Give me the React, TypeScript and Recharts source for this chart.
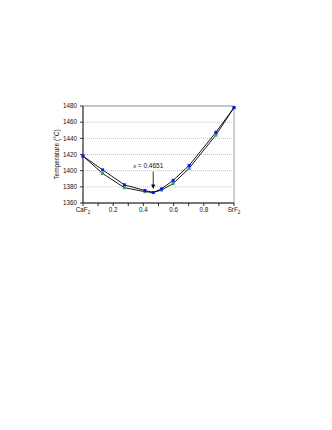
import React from 'react';
import { LineChart, Line, XAxis, YAxis, CartesianGrid, ReferenceArea, ReferenceDot } from 'recharts';

const compositions = [0, 0.13, 0.274, 0.41, 0.4651, 0.52, 0.597, 0.703, 0.88, 1];
const liquidus = [1418, 1401, 1382.5, 1375.5, 1373, 1377.5, 1388, 1406.5, 1447.5, 1478];
const solidus = [1418, 1396.5, 1379, 1374, 1373, 1376, 1384, 1403, 1444, 1478];
const xTicks = [0, 0.1, 0.2, 0.3, 0.4, 0.5, 0.6, 0.7, 0.8, 0.9, 1];
const yTicks = [1360, 1380, 1400, 1420, 1440, 1460, 1480];
const minX = 0.4651;
const minT = 1373;

const data = compositions.map((x, i) => ({ x, liq: liquidus[i], sol: solidus[i] }));

const FONT = '"Liberation Sans", Arial, sans-serif';

const Square = (color: string) => (props: any) => {
  const { cx, cy } = props;
  if (cx == null || cy == null) return null;
  return <rect x={cx - 1.5} y={cy - 1.5} width={3} height={3} fill={color} />;
};

const XTick = (props: any) => {
  const { x, y, payload } = props;
  const v = payload.value;
  let content: any = null;
  const r = Math.round(v * 10);
  if (r === 0) content = (<>CaF<tspan fontSize={4.5} dy={1.5}>2</tspan></>);
  else if (r === 10) content = (<>SrF<tspan fontSize={4.5} dy={1.5}>2</tspan></>);
  else if (r % 2 === 0) content = String(v);
  if (content == null) return null;
  return (
    <text x={x} y={y} dy="0.71em" textAnchor="middle" fontSize={6.3} fontFamily={FONT} fill="#111">
      {content}
    </text>
  );
};

const Annotation = (props: any) => {
  const { cx, cy } = props;
  if (cx == null || cy == null) return null;
  return (
    <g>
      <text x={cx - 5} y={cy - 24} textAnchor="middle" fontSize={6.5} fontFamily={FONT} fill="#111">
        <tspan fontStyle="italic" fontFamily='"Liberation Serif", serif'>x</tspan> = {minX}
      </text>
      <line x1={cx} y1={cy - 21} x2={cx} y2={cy - 7} stroke="#000" strokeWidth={0.8} />
      <path d={`M ${cx - 2} ${cy - 8} L ${cx + 2} ${cy - 8} L ${cx} ${cy - 3.5} Z`} fill="#000" />
    </g>
  );
};

export default function App() {
  return (
    <div style={{ width: 316, height: 300 }}>
      <LineChart width={316} height={300} data={data} margin={{ top: 98, right: 90, bottom: 85, left: 45 }}>
        <CartesianGrid horizontal vertical={false} stroke="#999" strokeDasharray="1 1" strokeWidth={0.6} />
        <ReferenceArea x1={0} x2={1} y1={1360} y2={1480} fill="none" stroke="#888" strokeWidth={0.8} />
        <XAxis
          dataKey="x"
          type="number"
          domain={[0, 1]}
          ticks={xTicks}
          tick={<XTick />}
          tickSize={3}
          tickMargin={2}
          height={20}
          axisLine={{ stroke: '#000', strokeWidth: 0.8 }}
          tickLine={{ stroke: '#000', strokeWidth: 0.8 }}
          interval={0}
        />
        <YAxis
          type="number"
          domain={[1360, 1480]}
          ticks={yTicks}
          width={30}
          tickSize={3}
          tickMargin={3}
          interval={0}
          tick={{ fontSize: 6.3, fontFamily: FONT, fill: '#111' }}
          axisLine={{ stroke: '#000', strokeWidth: 0.8 }}
          tickLine={{ stroke: '#000', strokeWidth: 0.8 }}
          label={{ value: 'Temperature (°C)', angle: -90, position: 'insideLeft', offset: 4, style: { fontSize: 6.6, fontFamily: FONT, fill: '#111', textAnchor: 'middle' } }}
        />
        <Line dataKey="sol" stroke="#000" strokeWidth={0.9} dot={Square('#3a9a6a')} activeDot={false} isAnimationActive={false} />
        <Line dataKey="liq" stroke="#000" strokeWidth={0.9} dot={Square('#1010ff')} activeDot={false} isAnimationActive={false} />
        <ReferenceDot x={minX} y={minT} shape={<Annotation />} />
      </LineChart>
    </div>
  );
}
